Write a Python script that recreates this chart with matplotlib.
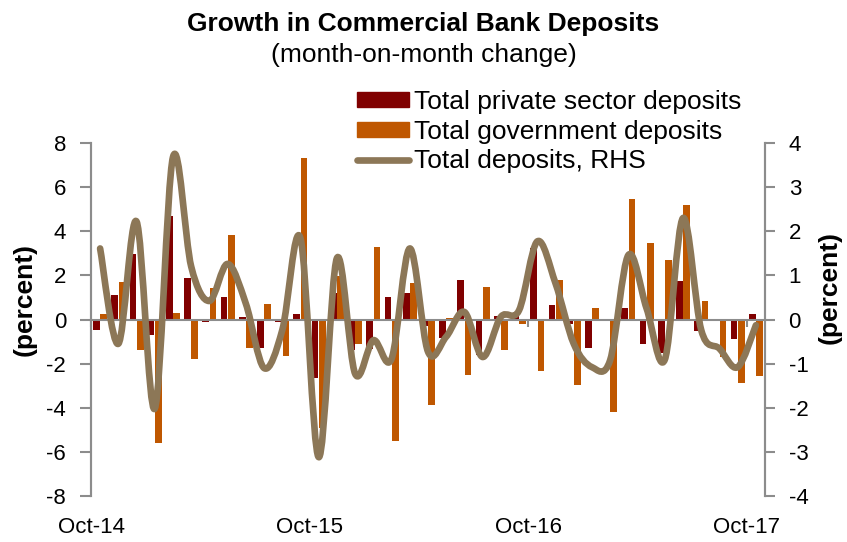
import matplotlib
matplotlib.use("Agg")
import matplotlib.pyplot as plt
import numpy as np
from matplotlib.path import Path
from matplotlib.patches import PathPatch, Patch
from matplotlib.lines import Line2D

plt.rcParams['font.family'] = ['Liberation Sans', 'DejaVu Sans']
plt.rcParams['axes.unicode_minus'] = False

# monthly data, Oct-14 .. Oct-17
months = ["Oct-14", "Nov-14", "Dec-14", "Jan-15", "Feb-15", "Mar-15", "Apr-15", "May-15",
          "Jun-15", "Jul-15", "Aug-15", "Sep-15", "Oct-15", "Nov-15", "Dec-15", "Jan-16",
          "Feb-16", "Mar-16", "Apr-16", "May-16", "Jun-16", "Jul-16", "Aug-16", "Sep-16",
          "Oct-16", "Nov-16", "Dec-16", "Jan-17", "Feb-17", "Mar-17", "Apr-17", "May-17",
          "Jun-17", "Jul-17", "Aug-17", "Sep-17", "Oct-17"]
private = [-0.48, 1.13, 2.99, -0.71, 4.68, 1.87, -0.10, 1.03, 0.10, -1.30, -0.10, 0.27,
           -2.63, 1.21, -1.39, -1.34, 1.03, 1.18, -0.30, -0.86, 1.78, -1.62, 0.18, 0.18,
           3.22, 0.65, -0.20, -1.30, 0.00, 0.53, -1.10, -1.54, 1.75, -0.53, -0.05, -0.88, 0.27]
government = [0.24, 1.71, -1.36, -5.62, 0.30, -1.81, 1.45, 3.85, -1.27, 0.71, -1.65, 7.33,
              -4.90, 1.96, -1.12, 3.29, -5.50, 1.66, -3.88, 0.08, -2.52, 1.48, -1.39, -0.21,
              -2.34, 1.78, -2.95, 0.53, -4.18, 5.48, 3.49, 2.69, 5.17, 0.85, -1.72, -2.90, -2.54]
total = [1.61, -0.55, 2.22, -2.02, 3.68, 1.20, 0.42, 1.26, 0.36, -1.10, -0.24, 1.84,
         -3.12, 1.39, -1.23, -0.47, -0.89, 1.61, -0.73, -0.39, 0.17, -0.85, 0.06, 0.21,
         1.77, 0.82, -0.55, -1.08, -0.92, 1.46, 0.25, -0.91, 2.30, -0.24, -0.66, -1.08, -0.13]
label_months = ["Oct-14", "Oct-15", "Oct-16", "Oct-17"]

RED = "#800000"
ORANGE = "#BF5700"
TAN = "#8C7757"
GREY = "#8C8C8C"

fig = plt.figure(figsize=(8.47, 5.42), dpi=100)
ax = fig.add_axes([91/847, 1-496/542, (765-91)/847, (496-143)/542])
ax2 = ax.twinx()

x = np.arange(len(months)) + 0.5
w = 0.37
ax.bar(x - 0.2, private, w, color=RED, zorder=2)
ax.bar(x + 0.2, government, w, color=ORANGE, zorder=2)

# smoothed line (Catmull-Rom style bezier through the points)
pts = np.column_stack([x, total])
n = len(pts)
verts = [tuple(pts[0])]
codes = [Path.MOVETO]
for i in range(n - 1):
    p0 = pts[max(i - 1, 0)]
    p1 = pts[i]
    p2 = pts[i + 1]
    p3 = pts[min(i + 2, n - 1)]
    c1 = p1 + (p2 - p0) / 6
    c2 = p2 - (p3 - p1) / 6
    verts += [tuple(c1), tuple(c2), tuple(p2)]
    codes += [Path.CURVE4] * 3
ax2.add_patch(PathPatch(Path(verts, codes), facecolor="none", edgecolor=TAN,
                        lw=4.8, capstyle="round", joinstyle="round", zorder=3))

ax.set_xlim(0, len(months))
ax.set_ylim(-8, 8)
ax2.set_ylim(-4, 4)
ax.set_yticks(range(-8, 9, 2))
ax2.set_yticks(range(-4, 5, 1))

for a in (ax, ax2):
    for s in a.spines.values():
        s.set_color(GREY)
        s.set_linewidth(1.5)
    a.spines['top'].set_visible(False)
ax2.spines['bottom'].set_visible(False)
ax.spines['bottom'].set_position(('data', 0))
ax.spines['bottom'].set_zorder(2.5)

ticks = [months.index(m) for m in label_months]
ax.set_xticks(ticks)
ax.tick_params(axis='x', direction='out', length=5, width=1.5, color=GREY, labelbottom=False)
ax.tick_params(axis='y', direction='out', length=8, width=1.5, color=GREY, labelsize=16, pad=10)
ax2.tick_params(axis='y', direction='out', length=7, width=1.5, color=GREY, labelsize=16, pad=10)
for t, lab in zip(ticks, label_months):
    ax.text(t, -0.088, lab, transform=ax.get_xaxis_transform(), ha='center', va='center',
            fontsize=16)

fig.text(25/847, 1-300/542, "(percent)", rotation=90, ha='center', va='center',
         fontsize=19, fontweight='bold')
fig.text(830/847, 1-288/542, "(percent)", rotation=90, ha='center', va='center',
         fontsize=19, fontweight='bold')

fig.text(0.5, 1-31/542, "Growth in Commercial Bank Deposits", ha='center', va='baseline',
         fontsize=19, fontweight='bold')
fig.text(0.5, 1-62/542, "(month-on-month change)", ha='center', va='baseline',
         fontsize=19)

handles = [Patch(color=RED), Patch(color=ORANGE), Line2D([], [], color=TAN, lw=4.8,
                                                          solid_capstyle='round')]
labels = ["Total private sector deposits", "Total government deposits", "Total deposits, RHS"]
fig.legend(handles, labels, loc='upper left', bbox_to_anchor=(357/847, 1-90/542),
           frameon=False, fontsize=19, handlelength=1.97, handleheight=0.5,
           handletextpad=0.19, labelspacing=0.21, borderpad=0, borderaxespad=0)

fig.savefig("out.png", dpi=100)
